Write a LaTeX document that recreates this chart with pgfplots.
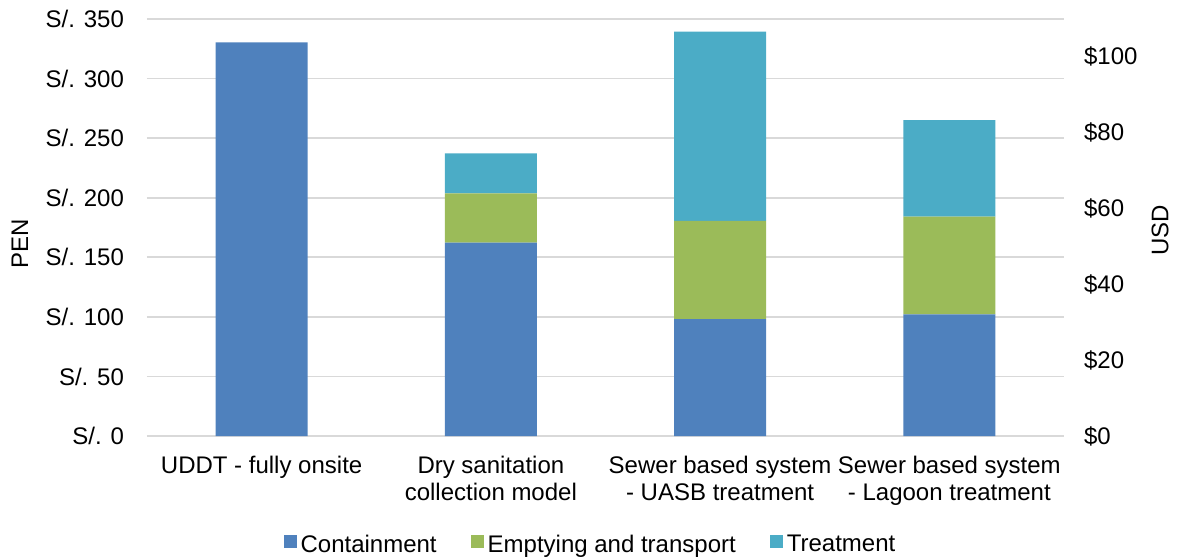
\documentclass[border=0pt]{standalone}
\usepackage{fontspec}
\setmainfont{Liberation Sans}
\usepackage{pgfplots}
\usepackage{pgfplotstable}
\pgfplotsset{compat=1.18}
\definecolor{cCont}{HTML}{4F81BD}
\definecolor{cEmpt}{HTML}{9BBB59}
\definecolor{cTreat}{HTML}{4BACC6}
\definecolor{cGrid}{HTML}{D9D9D9}
\pgfplotstableread{
x cont empt treat
0 330.4 0 0
1 162.3 41.4 33.6
2 98.2 82.3 158.9
3 102.1 82.0 81.1
}\costs
\begin{document}
\begin{tikzpicture}
\useasboundingbox (-73.5pt,-61pt) rectangle (516.5pt,218pt);
\begin{axis}[
  at={(0pt,0pt)}, anchor=south west,
  scale only axis, width=458.5pt, height=208.5pt,
  ybar stacked, bar width=46pt,
  xmin=-0.5, xmax=3.5, ymin=0, ymax=350,
  xtick={0,1,2,3},
  xticklabels={UDDT - fully onsite, Dry sanitation\\collection model, Sewer based system\\- UASB treatment, Sewer based system\\- Lagoon treatment},
  xticklabel style={align=center, font=\fontsize{12}{13.5}\selectfont, yshift=-6.5pt},
  ytick={0,50,...,350},
  yticklabels={S/. 0, S/. 50, S/. 100, S/. 150, S/. 200, S/. 250, S/. 300, S/. 350},
  yticklabel style={font=\fontsize{12}{13.5}\selectfont, xshift=-8pt},
  major tick length=0pt,
  axis line style={draw=none},
  ymajorgrids, grid style={cGrid, line width=0.9pt},
  ylabel={PEN},
  ylabel style={at={(axis description cs:-0.1385,0.4604)}, anchor=center, font=\fontsize{12}{13.5}\selectfont},
  legend columns=3,
  legend style={at={(axis description cs:0.4847,-0.2614)}, anchor=center, draw=none, fill=none,
    font=\fontsize{12}{13.5}\selectfont,
    /tikz/every even column/.append style={column sep=15pt}},
  legend image code/.code={\fill[#1] (0pt,-1.5pt) rectangle (6.5pt,5pt);},
]
\addplot[fill=cCont, draw=none] table[x=x, y=cont] {\costs};
\addplot[fill=cEmpt, draw=none] table[x=x, y=empt] {\costs};
\addplot[fill=cTreat, draw=none] table[x=x, y=treat] {\costs};
\legend{Containment, Emptying and transport, Treatment}
\end{axis}
\begin{axis}[
  at={(0pt,0pt)}, anchor=south west,
  scale only axis, width=458.5pt, height=208.5pt,
  xmin=-0.5, xmax=3.5, ymin=0, ymax=110,
  xtick=\empty,
  ytick={0,20,...,100},
  yticklabels={\$0, \$20, \$40, \$60, \$80, \$100},
  yticklabel pos=right,
  yticklabel style={font=\fontsize{12}{13.5}\selectfont, xshift=6.5pt},
  major tick length=0pt,
  axis line style={draw=none},
  ylabel={USD},
  ylabel style={at={(axis description cs:1.1047,0.494)}, anchor=center, rotate=0, font=\fontsize{12}{13.5}\selectfont},
]
\addplot[draw=none, forget plot] coordinates {(0,0)};
\end{axis}
\end{tikzpicture}
\end{document}
